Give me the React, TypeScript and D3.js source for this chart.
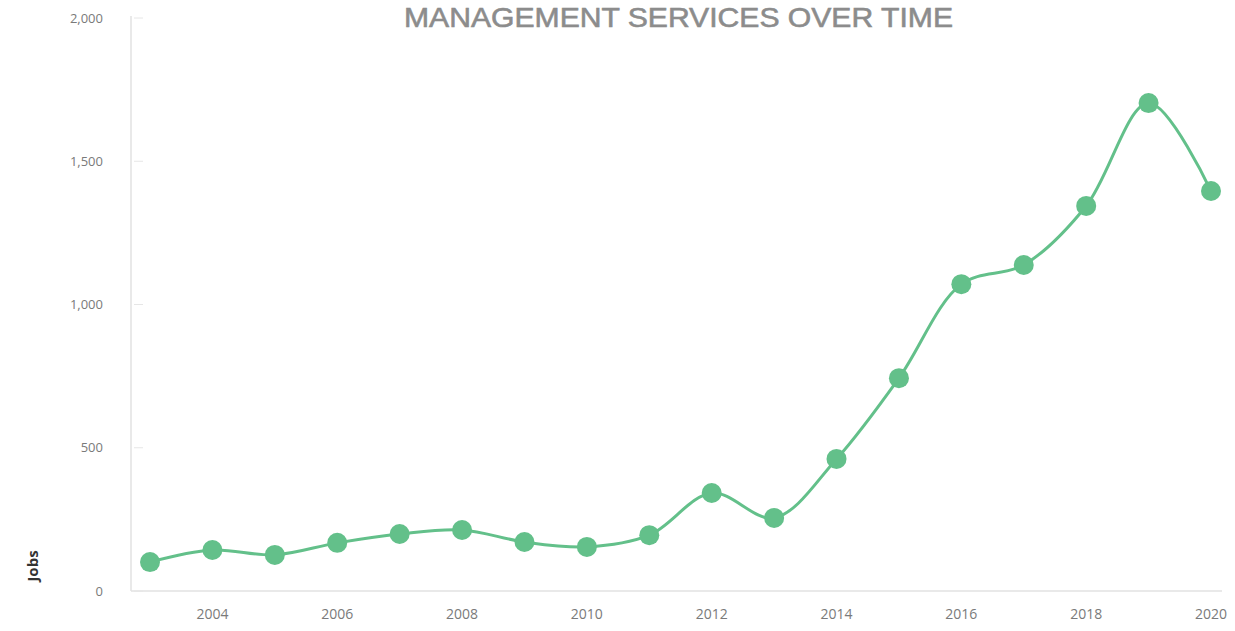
import React from "react";
import * as d3 from "d3";

const years = [2003, 2004, 2005, 2006, 2007, 2008, 2009, 2010, 2011, 2012, 2013, 2014, 2015, 2016, 2017, 2018, 2019, 2020];
const jobs = [101, 143, 126, 168, 199, 213, 171, 154, 195, 342, 255, 461, 743, 1071, 1138, 1344, 1703, 1396];
const yTicks = [0, 500, 1000, 1500, 2000];
const xTicks = [2004, 2006, 2008, 2010, 2012, 2014, 2016, 2018, 2020];

const W = 1235;
const H = 631;

export default function App() {
  const x = d3.scaleLinear().domain([2003, 2020]).range([150, 1211]);
  const y = d3.scaleLinear().domain([0, 2000]).range([591, 18]);
  const data = years.map((yr, i) => ({ yr, v: jobs[i] }));
  const line = d3
    .line<{ yr: number; v: number }>()
    .x((d) => x(d.yr))
    .y((d) => y(d.v))
    .curve(d3.curveCatmullRom.alpha(0.5));
  const fmt = d3.format(",");
  const green = "#63c08a";
  return (
    <svg width={W} height={H} style={{ position: "absolute", left: 0, top: 0, background: "#fff" }}>
      <text
        x={404}
        y={27}
        textLength={549}
        lengthAdjust="spacingAndGlyphs"
        fontFamily="Liberation Sans, Arial, sans-serif"
        fontSize={28}
        stroke="#8c8c8c"
        strokeWidth={0.6}
        fill="#8c8c8c"
      >
        MANAGEMENT  SERVICES OVER TIME
      </text>
      <line x1={131} x2={131} y1={16} y2={591} stroke="#e2e2e2" strokeWidth={1.5} />
      <line x1={131} x2={1222} y1={591} y2={591} stroke="#e2e2e2" strokeWidth={1.5} />
      {yTicks.map((t) => (
        <g key={t}>
          <line x1={134} x2={143} y1={y(t)} y2={y(t)} stroke="#e6e6e6" strokeWidth={1} />
          <text
            x={103}
            y={y(t)}
            dy="0.35em"
            textAnchor="end"
            fontFamily="Open Sans, sans-serif"
            fontSize={13}
            fill="#7a7a7a"
          >
            {fmt(t)}
          </text>
        </g>
      ))}
      {xTicks.map((t) => (
        <text
          key={t}
          x={x(t)}
          y={619}
          textAnchor="middle"
          fontFamily="Open Sans, sans-serif"
          fontSize={14}
          fill="#7a7a7a"
        >
          {t}
        </text>
      ))}
      <text
        transform="translate(38,566) rotate(-90)"
        textAnchor="middle"
        fontFamily="Open Sans, sans-serif"
        fontWeight="bold"
        fontSize={15}
        fill="#333"
      >
        Jobs
      </text>
      <path d={line(data) || ""} fill="none" stroke={green} strokeWidth={3} />
      {data.map((d) => (
        <circle key={d.yr} cx={x(d.yr)} cy={y(d.v)} r={10} fill={green} />
      ))}
    </svg>
  );
}
